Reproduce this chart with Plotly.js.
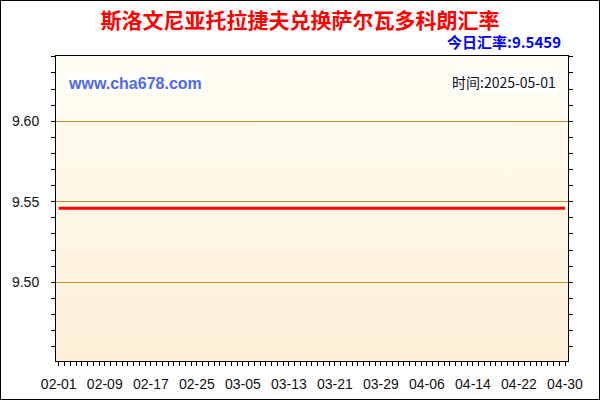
<!DOCTYPE html>
<html>
<head>
<meta charset="utf-8">
<script src="https://cdn.plot.ly/plotly-3.0.1.min.js"></script>
<style>
  body { margin: 0; background: #fff; }
  #wrap { position: relative; width: 600px; height: 400px; }
  #chart { width: 600px; height: 400px; }
  #frame { position: absolute; left: 0; top: 0; width: 600px; height: 400px;
           box-sizing: border-box; border: 1px solid #000; pointer-events: none; }
</style>
</head>
<body>
<div id="wrap">
  <div id="chart"></div>
  <div id="frame"></div>
</div>
<script>
// daily rate, flat over the period
var dates = ['2025-02-01', '2025-02-09', '2025-02-17', '2025-02-25', '2025-03-05', '2025-03-13',
             '2025-03-21', '2025-03-29', '2025-04-06', '2025-04-14', '2025-04-22', '2025-04-30'];
var rates = [9.5459, 9.5459, 9.5459, 9.5459, 9.5459, 9.5459,
             9.5459, 9.5459, 9.5459, 9.5459, 9.5459, 9.5459];

var chartTitle = '斯洛文尼亚托拉捷夫兑换萨尔瓦多科朗汇率';
var todayRate = '今日汇率:9.5459';
var siteText = 'www.cha678.com';
var timeText = '时间:2025-05-01';

var DAY = 86400000;
var xRange = ['2025-01-31 12:30', '2025-04-30 12:30'];
var yRange = [9.4511, 9.6405];

var bgSvg = '<svg xmlns="http://www.w3.org/2000/svg" width="10" height="100" preserveAspectRatio="none">' +
  '<defs><linearGradient id="g" x1="0" y1="0" x2="0" y2="1">' +
  '<stop offset="0" stop-color="#fffdf3"/><stop offset="1" stop-color="#fdefd7"/>' +
  '</linearGradient></defs><rect width="10" height="100" fill="url(#g)"/></svg>';

var tickFont = {family: 'Liberation Sans, Arial, sans-serif', size: 14, color: '#111'};

var layout = {
  width: 600,
  height: 400,
  margin: {l: 56, r: 32, t: 56, b: 39},
  paper_bgcolor: '#ffffff',
  plot_bgcolor: 'rgba(0,0,0,0)',
  showlegend: false,
  title: {
    text: '<b>' + chartTitle + '</b>',
    font: {family: 'Noto Sans CJK SC', size: 21, color: '#ff0000'},
    xref: 'container', yref: 'container',
    x: 0.5, xanchor: 'center',
    y: 1 - 21 / 400, yanchor: 'middle'
  },
  xaxis: {
    type: 'date',
    range: xRange,
    tick0: '2025-02-01',
    dtick: 8 * DAY,
    tickformat: '%m-%d',
    ticks: 'outside',
    ticklen: 4,
    tickcolor: '#000',
    ticklabelstandoff: 6,
    minor: {dtick: DAY, tick0: '2025-02-01', ticks: 'outside', ticklen: 4, tickcolor: '#000'},
    showgrid: false,
    zeroline: false,
    showline: true,
    linecolor: '#000',
    linewidth: 1,
    mirror: true,
    tickfont: tickFont,
    fixedrange: true
  },
  // inner tick marks (bottom + top), so bottom ticks cross the axis
  xaxis2: {
    type: 'date',
    overlaying: 'x',
    anchor: 'y',
    side: 'bottom',
    range: xRange,
    tick0: '2025-02-01',
    dtick: 8 * DAY,
    ticks: 'inside',
    ticklen: 3,
    tickcolor: '#000',
    minor: {dtick: DAY, tick0: '2025-02-01', ticks: 'inside', ticklen: 3, tickcolor: '#000'},
    showticklabels: false,
    showgrid: false,
    zeroline: false,
    showline: false,
    mirror: 'allticks',
    fixedrange: true
  },
  yaxis: {
    range: yRange,
    tick0: 9.5,
    dtick: 0.05,
    tickformat: '.2f',
    ticks: 'outside',
    ticklen: 4,
    tickcolor: '#000',
    ticklabelstandoff: 9,
    minor: {dtick: 0.01, tick0: 9.5, ticks: 'outside', ticklen: 4, tickcolor: '#000', showgrid: false},
    showgrid: true,
    gridcolor: '#c0922a',
    gridwidth: 1,
    zeroline: false,
    showline: true,
    linecolor: '#000',
    linewidth: 1,
    mirror: 'allticks',
    tickfont: tickFont,
    fixedrange: true
  },
  yaxis2: {
    overlaying: 'y',
    anchor: 'x',
    side: 'left',
    range: yRange,
    tick0: 9.5,
    dtick: 0.05,
    ticks: 'inside',
    ticklen: 4,
    tickcolor: '#000',
    minor: {dtick: 0.01, tick0: 9.5, ticks: 'inside', ticklen: 4, tickcolor: '#000', showgrid: false},
    showticklabels: false,
    showgrid: false,
    zeroline: false,
    showline: false,
    mirror: 'allticks',
    fixedrange: true
  },
  images: [{
    source: 'data:image/svg+xml;utf8,' + encodeURIComponent(bgSvg),
    xref: 'paper', yref: 'paper',
    x: 0, y: 1, sizex: 1, sizey: 1,
    xanchor: 'left', yanchor: 'top',
    sizing: 'stretch',
    layer: 'below'
  }],
  annotations: [
    {
      text: '<b>' + todayRate + '</b>',
      xref: 'paper', yref: 'paper',
      x: (563 - 56) / 512, xanchor: 'right',
      y: (361 - 42) / 305, yanchor: 'middle',
      showarrow: false,
      font: {family: 'Noto Sans CJK SC', size: 15, color: '#0000ff'}
    },
    {
      text: '<b>' + siteText + '</b>',
      xref: 'paper', yref: 'paper',
      x: (66 - 56) / 512, xanchor: 'left',
      y: (361 - 84) / 305, yanchor: 'middle',
      showarrow: false,
      bgcolor: '#ffffff',
      borderpad: 1,
      font: {family: 'Liberation Sans, Arial, sans-serif', size: 16, color: '#5068ee'}
    },
    {
      text: timeText,
      xref: 'paper', yref: 'paper',
      x: (558 - 56) / 512, xanchor: 'right',
      y: (361 - 82) / 305, yanchor: 'middle',
      showarrow: false,
      bgcolor: '#ffffff',
      borderpad: 1,
      font: {family: 'Noto Sans CJK SC', size: 14, color: '#111'}
    }
  ]
};

var config = {staticPlot: true, responsive: false};

Plotly.newPlot('chart', [{
  x: dates,
  y: rates,
  type: 'scatter',
  mode: 'lines',
  line: {color: '#ff0000', width: 3},
  hoverinfo: 'none'
}], layout, config);
</script>
</body>
</html>
